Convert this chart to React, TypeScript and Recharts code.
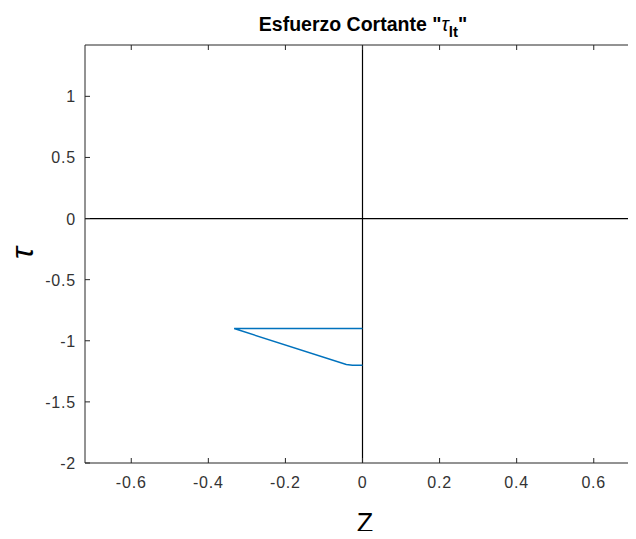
import { LineChart, Line, XAxis, YAxis, ReferenceLine } from "recharts";

// shear stress distribution along z
const zValues = [0, -0.333, -0.042, -0.026, 0];
const tauValues = [-0.9, -0.9, -1.194, -1.2, -1.2];

const xTicks = [-0.6, -0.4, -0.2, 0, 0.2, 0.4, 0.6];
const yTicks = [-2, -1.5, -1, -0.5, 0, 0.5, 1];

const data = zValues.map((z, i) => ({ z, tau: tauValues[i] }));

const AXIS = "#262626";
const FONT = "'Liberation Sans', Arial, sans-serif";

const BottomTick = (props: any) => {
  const { x, y, payload } = props;
  return (
    <g>
      <line x1={x} y1={y} x2={x} y2={y - 5} stroke={AXIS} />
      <text x={x} y={y + 25} textAnchor="middle" fontSize={16} letterSpacing={0.8} fill="#333" fontFamily={FONT}>
        {String(payload.value)}
      </text>
    </g>
  );
};

const LeftTick = (props: any) => {
  const { x, y, payload } = props;
  return (
    <g>
      <line x1={x} y1={y} x2={x + 5} y2={y} stroke={AXIS} />
      <text x={x - 9} y={y + 6} textAnchor="end" fontSize={16} letterSpacing={0.8} fill="#333" fontFamily={FONT}>
        {String(payload.value)}
      </text>
    </g>
  );
};

const TopTick = (props: any) => {
  const { x, y } = props;
  return <line x1={x} y1={y} x2={x} y2={y + 5} stroke={AXIS} />;
};

const RightTick = (props: any) => {
  const { x, y } = props;
  return <line x1={x} y1={y} x2={x - 5} y2={y} stroke={AXIS} />;
};

export default function App() {
  return (
    <div style={{ position: "relative", margin: -8, width: 636, height: 539, overflow: "hidden", background: "#fff" }}>
      <div
        style={{
          position: "absolute",
          left: 0,
          top: 14,
          width: 726,
          textAlign: "center",
          fontFamily: FONT,
          fontWeight: "bold",
          fontSize: 19.5,
          lineHeight: "20px",
          color: "#000",
          whiteSpace: "nowrap",
        }}
      >
        Esfuerzo Cortante "<span style={{ fontStyle: "italic", fontWeight: "normal" }}>τ</span>
        <span style={{ fontSize: 15, position: "relative", top: 6 }}>lt</span>"
      </div>
      <div
        style={{
          position: "absolute",
          left: 2,
          top: 233,
          width: 40,
          height: 40,
          textAlign: "center",
          lineHeight: "40px",
          fontFamily: FONT,
          fontStyle: "italic",
          fontSize: 32,
          transform: "rotate(-90deg)",
        }}
      >
        τ
      </div>
      <div
        style={{
          position: "absolute",
          left: 345,
          top: 507,
          width: 40,
          textAlign: "center",
          fontFamily: FONT,
          fontSize: 27,
          lineHeight: "32px",
          color: "#000",
        }}
      >
        Z
      </div>
      <LineChart
        width={668}
        height={539}
        data={data}
        margin={{ top: 44, right: 27, left: 0, bottom: 36 }}
      >
        <XAxis
          dataKey="z"
          type="number"
          domain={[-0.72, 0.72]}
          ticks={xTicks}
          allowDataOverflow
          tickSize={0}
          tickMargin={0}
          tickLine={false}
          height={40}
          stroke={AXIS}
          tick={<BottomTick />}
        />
        <XAxis
          xAxisId="top"
          dataKey="z"
          type="number"
          orientation="top"
          domain={[-0.72, 0.72]}
          ticks={xTicks}
          allowDataOverflow
          tickSize={0}
          tickMargin={0}
          tickLine={false}
          height={1}
          stroke={AXIS}
          tick={<TopTick />}
        />
        <YAxis
          type="number"
          domain={[-2, 1.42]}
          ticks={yTicks}
          allowDataOverflow
          tickSize={0}
          tickMargin={0}
          tickLine={false}
          width={85}
          stroke={AXIS}
          tick={<LeftTick />}
        />
        <YAxis
          yAxisId="right"
          orientation="right"
          type="number"
          domain={[-2, 1.42]}
          ticks={yTicks}
          allowDataOverflow
          tickSize={0}
          tickMargin={0}
          tickLine={false}
          width={1}
          stroke={AXIS}
          tick={<RightTick />}
        />
        <ReferenceLine x={0} stroke="#000" strokeWidth={1.2} />
        <ReferenceLine y={0} stroke="#000" strokeWidth={1.2} />
        <Line
          type="linear"
          dataKey="tau"
          stroke="#0072BD"
          strokeWidth={1.5}
          dot={false}
          isAnimationActive={false}
        />
      </LineChart>
    </div>
  );
}
